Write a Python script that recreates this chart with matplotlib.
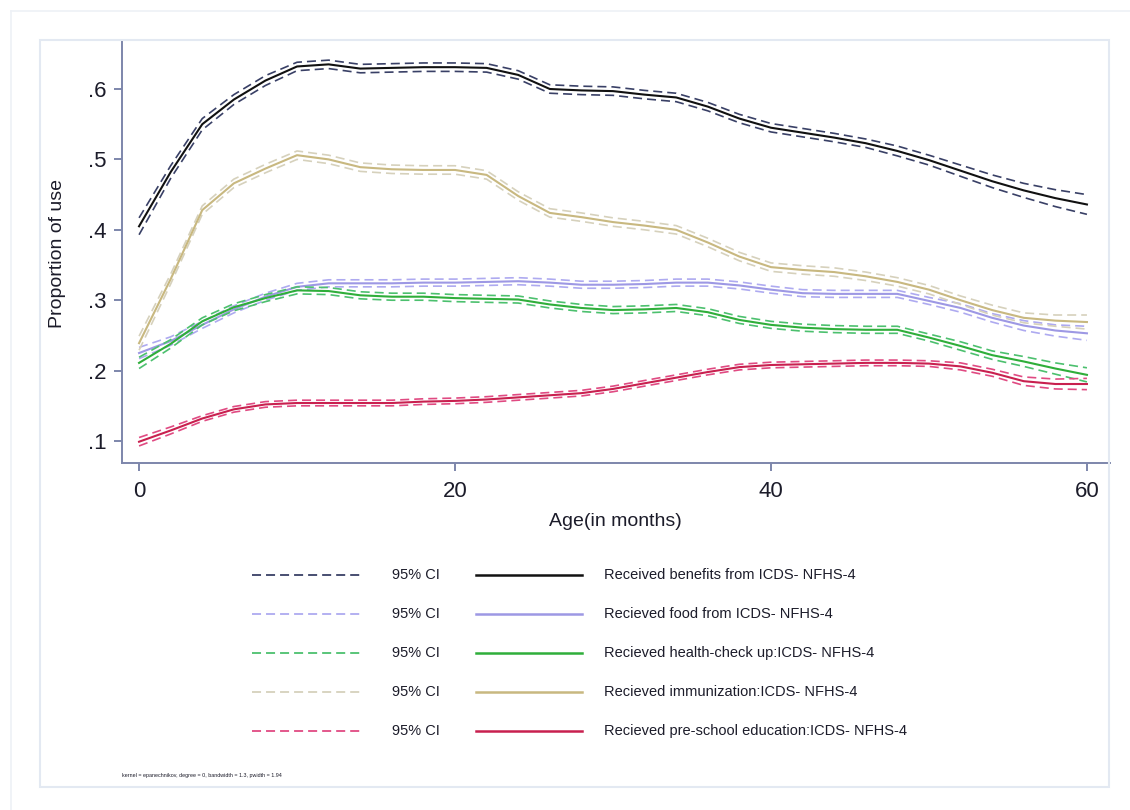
import matplotlib
matplotlib.use("Agg")
import matplotlib.pyplot as plt
from matplotlib.lines import Line2D

plt.rcParams['font.family'] = ['Liberation Sans', 'DejaVu Sans']
plt.rcParams['lines.scale_dashes'] = False

# ---------------- data ----------------
ages = [0, 2, 4, 6, 8, 10, 12, 14, 16, 18, 20, 22, 24, 26, 28, 30,
        32, 34, 36, 38, 40, 42, 44, 46, 48, 50, 52, 54, 56, 58, 60]

benefits = [0.405, 0.482, 0.550, 0.585, 0.612, 0.632, 0.635, 0.629, 0.630, 0.631, 0.631,
            0.630, 0.620, 0.600, 0.598, 0.597, 0.592, 0.588, 0.575, 0.558, 0.545, 0.538,
            0.531, 0.523, 0.512, 0.499, 0.484, 0.469, 0.456, 0.445, 0.436]
benefits_hw = [0.012, 0.009, 0.008, 0.007, 0.007, 0.006, 0.006, 0.006, 0.006, 0.006, 0.006,
               0.006, 0.006, 0.006, 0.006, 0.006, 0.006, 0.006, 0.006, 0.006, 0.006, 0.006,
               0.006, 0.006, 0.007, 0.007, 0.008, 0.009, 0.010, 0.012, 0.014]

food = [0.225, 0.242, 0.265, 0.287, 0.305, 0.319, 0.324, 0.324, 0.324, 0.325, 0.325,
        0.326, 0.327, 0.325, 0.322, 0.322, 0.323, 0.325, 0.325, 0.321, 0.315, 0.310,
        0.309, 0.309, 0.309, 0.299, 0.289, 0.275, 0.264, 0.257, 0.253]
food_hw = [0.008, 0.006, 0.005, 0.005, 0.005, 0.005, 0.005, 0.005, 0.005, 0.005, 0.005,
           0.005, 0.005, 0.005, 0.005, 0.005, 0.005, 0.005, 0.005, 0.005, 0.005, 0.005,
           0.005, 0.005, 0.005, 0.005, 0.006, 0.006, 0.007, 0.008, 0.010]

health = [0.211, 0.238, 0.270, 0.290, 0.303, 0.314, 0.313, 0.307, 0.305, 0.305, 0.303,
          0.302, 0.301, 0.294, 0.289, 0.286, 0.287, 0.289, 0.283, 0.272, 0.265, 0.261,
          0.259, 0.258, 0.258, 0.247, 0.235, 0.222, 0.213, 0.203, 0.194]
health_hw = [0.008, 0.006, 0.005, 0.005, 0.005, 0.005, 0.005, 0.005, 0.005, 0.005, 0.005,
             0.005, 0.005, 0.005, 0.005, 0.005, 0.005, 0.005, 0.005, 0.005, 0.005, 0.005,
             0.005, 0.005, 0.005, 0.005, 0.006, 0.006, 0.007, 0.008, 0.010]

immunization = [0.239, 0.330, 0.428, 0.466, 0.487, 0.506, 0.500, 0.489, 0.486, 0.485, 0.485,
                0.478, 0.448, 0.424, 0.418, 0.411, 0.406, 0.400, 0.382, 0.362, 0.347, 0.343,
                0.340, 0.334, 0.326, 0.315, 0.300, 0.286, 0.275, 0.271, 0.269]
immunization_hw = [0.010, 0.007, 0.006, 0.006, 0.006, 0.006, 0.006, 0.006, 0.006, 0.006, 0.006,
                   0.006, 0.006, 0.006, 0.006, 0.006, 0.006, 0.006, 0.006, 0.006, 0.006, 0.006,
                   0.006, 0.006, 0.006, 0.006, 0.006, 0.007, 0.007, 0.008, 0.010]

preschool = [0.099, 0.115, 0.132, 0.145, 0.152, 0.154, 0.154, 0.154, 0.154, 0.156, 0.157,
             0.159, 0.162, 0.165, 0.168, 0.174, 0.182, 0.190, 0.198, 0.205, 0.208, 0.209,
             0.210, 0.211, 0.211, 0.210, 0.206, 0.197, 0.185, 0.181, 0.181]
preschool_hw = [0.006, 0.005, 0.004, 0.004, 0.004, 0.004, 0.004, 0.004, 0.004, 0.004, 0.004,
                0.004, 0.004, 0.004, 0.004, 0.004, 0.004, 0.004, 0.004, 0.004, 0.004, 0.004,
                0.004, 0.004, 0.004, 0.004, 0.005, 0.005, 0.006, 0.007, 0.008]

series_labels = ["Received benefits from ICDS- NFHS-4",
                 "Recieved food from ICDS- NFHS-4",
                 "Recieved health-check up:ICDS- NFHS-4",
                 "Recieved immunization:ICDS- NFHS-4",
                 "Recieved pre-school education:ICDS- NFHS-4"]
ci_label = "95% CI"

xticks = [0, 20, 40, 60]
xtick_labels = ["0", "20", "40", "60"]
yticks = [0.1, 0.2, 0.3, 0.4, 0.5, 0.6]
ytick_labels = [".1", ".2", ".3", ".4", ".5", ".6"]

note = "kernel = epanechnikov, degree = 0, bandwidth = 1.3, pwidth = 1.94"

# ---------------- styles ----------------
line_colors = ['#111111', '#9d98e4', '#2fae3a', '#c8b880', '#c8204f']
ci_colors = ['#394066', '#aeaaf0', '#4cc06e', '#d6d1bc', '#e04a82']
spine_color = '#7d86ab'
text_color = '#1c1c2a'
dash = (0, (6.5, 3.6))

W, H = 1130, 810
fig = plt.figure(figsize=(W / 100, H / 100), dpi=100)
fig.patch.set_facecolor('white')

# graph region frames
fig.add_artist(Line2D([11 / W, 11 / W], [1 - 11 / H, 0], color='#eef1f6', lw=1.2))
fig.add_artist(Line2D([11 / W, 1], [1 - 11 / H, 1 - 11 / H], color='#eef1f6', lw=1.2))
fig.add_artist(plt.Rectangle((40 / W, 1 - 787 / H), (1109 - 40) / W, (787 - 40) / H,
                             transform=fig.transFigure, fill=False,
                             edgecolor='#e3e9f2', lw=1.5))

ax = fig.add_axes([122 / W, 1 - 463 / H, (1110 - 122) / W, (463 - 40) / H])
ax.set_facecolor('white')

all_series = [(benefits, benefits_hw), (food, food_hw), (health, health_hw),
              (immunization, immunization_hw), (preschool, preschool_hw)]

for i, (vals, hw) in enumerate(all_series):
    lo = [v - h for v, h in zip(vals, hw)]
    hi = [v + h for v, h in zip(vals, hw)]
    ax.plot(ages, lo, color=ci_colors[i], lw=1.2, linestyle=dash)
    ax.plot(ages, hi, color=ci_colors[i], lw=1.2, linestyle=dash)
    ax.plot(ages, vals, color=line_colors[i], lw=1.5)

ax.set_xlim(-1.08, 61.46)
ax.set_ylim(0.0688, 0.6696)
ax.set_xticks(xticks)
ax.set_xticklabels(xtick_labels)
ax.set_yticks(yticks)
ax.set_yticklabels(ytick_labels)

for s in ['top', 'right']:
    ax.spines[s].set_visible(False)
for s in ['left', 'bottom']:
    ax.spines[s].set_color(spine_color)
    ax.spines[s].set_linewidth(1.4)

ax.tick_params(axis='both', direction='out', length=6, width=1.4, color=spine_color,
               labelsize=16, labelcolor=text_color)
ax.tick_params(axis='x', pad=7)
ax.tick_params(axis='y', pad=5)

ax.set_xlabel("Age(in months)", fontsize=14, color=text_color)
ax.xaxis.set_label_coords((615 - 122) / 988, (463 - 513) / 423)
ax.set_ylabel("Proportion of use", fontsize=14, color=text_color)
ax.yaxis.set_label_coords((66 - 122) / 988, (463 - 253) / 423)

# legend (two columns: CI dashed, estimate solid)
row_y = [575, 614, 653, 692, 731]
for i, y in enumerate(row_y):
    fy = 1 - y / H
    fig.add_artist(Line2D([252 / W, 360 / W], [fy, fy], color=ci_colors[i], lw=1.3,
                          linestyle=dash))
    fig.text(392 / W, fy, ci_label, fontsize=10.5, color=text_color, va='center', ha='left')
    fig.add_artist(Line2D([476 / W, 582 / W], [fy, fy], color=line_colors[i], lw=1.8))
    fig.text(604 / W, fy, series_labels[i], fontsize=10.5, color=text_color,
             va='center', ha='left')

fig.text(122 / W, 1 - 775 / H, note, fontsize=3.9, color=text_color, va='center', ha='left')

fig.savefig("out.png", dpi=100, facecolor='white')
